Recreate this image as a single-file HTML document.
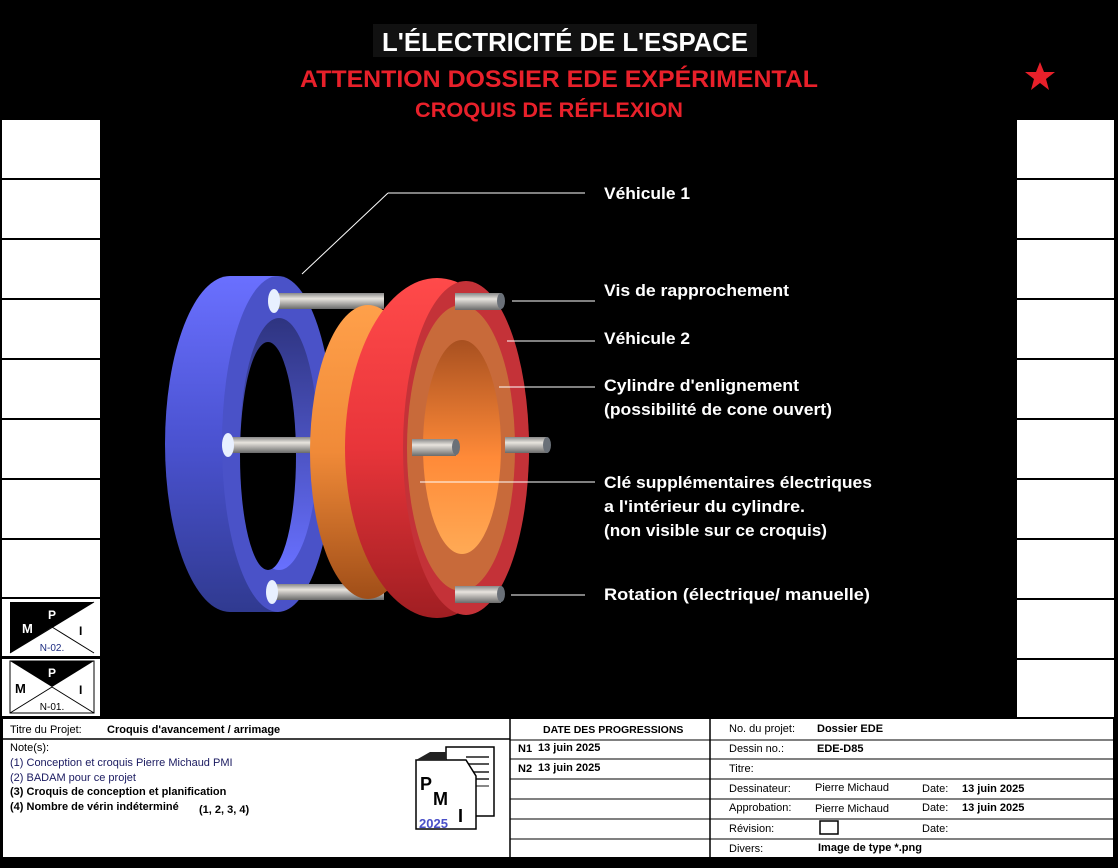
<!DOCTYPE html>
<html><head><meta charset="utf-8"><style>html,body{margin:0;padding:0;background:#000}svg{display:block}text{font-family:"Liberation Sans",sans-serif}</style></head><body>
<svg width="1118" height="868" viewBox="0 0 1118 868" xmlns="http://www.w3.org/2000/svg">
<defs>
<linearGradient id="bl" x1="0" y1="0" x2="0" y2="1"><stop offset="0" stop-color="#6a70ff"/><stop offset="0.5" stop-color="#4a52d0"/><stop offset="1" stop-color="#303a90"/></linearGradient>
<linearGradient id="blin" x1="0" y1="0" x2="0" y2="1"><stop offset="0" stop-color="#2e3480"/><stop offset="1" stop-color="#6870ff"/></linearGradient>
<linearGradient id="rd" x1="0" y1="0" x2="0" y2="1"><stop offset="0" stop-color="#ff4a4a"/><stop offset="0.5" stop-color="#e8353a"/><stop offset="1" stop-color="#a01e22"/></linearGradient>
<linearGradient id="or" x1="0" y1="0" x2="0" y2="1"><stop offset="0" stop-color="#ffa04a"/><stop offset="0.5" stop-color="#f08a38"/><stop offset="1" stop-color="#a04e18"/></linearGradient>
<linearGradient id="orin" x1="0" y1="0" x2="0" y2="1"><stop offset="0" stop-color="#a85020"/><stop offset="0.55" stop-color="#ff8a38"/><stop offset="1" stop-color="#ffaa55"/></linearGradient>
<linearGradient id="rod" x1="0" y1="0" x2="0" y2="1"><stop offset="0" stop-color="#888"/><stop offset="0.35" stop-color="#e8e4de"/><stop offset="1" stop-color="#6a6a6a"/></linearGradient>
</defs>
<rect width="1118" height="868" fill="#000"/>
<rect x="373" y="24" width="384" height="33" fill="#111"/>
<text x="565" y="51" fill="#fff" font-size="26" font-weight="bold" text-anchor="middle" textLength="366" lengthAdjust="spacingAndGlyphs">L'ÉLECTRICITÉ DE L'ESPACE</text>
<text x="559" y="87" fill="#e8202a" font-size="24" font-weight="bold" text-anchor="middle" textLength="518" lengthAdjust="spacingAndGlyphs">ATTENTION DOSSIER EDE EXPÉRIMENTAL</text>
<text x="549" y="117" fill="#e8202a" font-size="21" font-weight="bold" text-anchor="middle" textLength="268" lengthAdjust="spacingAndGlyphs">CROQUIS DE RÉFLEXION</text>
<polygon points="1040,62 1044,72 1055,72 1046,79 1049,90 1040,83 1031,90 1034,79 1025,72 1036,72" fill="#e8202a"/>
<g fill="#fff">
<rect x="2" y="120" width="98" height="58"/><rect x="2" y="180" width="98" height="58"/><rect x="2" y="240" width="98" height="58"/><rect x="2" y="300" width="98" height="58"/><rect x="2" y="360" width="98" height="58"/><rect x="2" y="420" width="98" height="58"/><rect x="2" y="480" width="98" height="58"/><rect x="2" y="540" width="98" height="57"/>
<rect x="1017" y="120" width="97" height="58"/><rect x="1017" y="180" width="97" height="58"/><rect x="1017" y="240" width="97" height="58"/><rect x="1017" y="300" width="97" height="58"/><rect x="1017" y="360" width="97" height="58"/><rect x="1017" y="420" width="97" height="58"/><rect x="1017" y="480" width="97" height="58"/><rect x="1017" y="540" width="97" height="58"/><rect x="1017" y="600" width="97" height="58"/><rect x="1017" y="660" width="97" height="57"/>
<rect x="2" y="599" width="98" height="57"/><rect x="2" y="659" width="98" height="57"/>
</g>
<g>
<rect x="10" y="602" width="84" height="51" fill="#000"/>
<polygon points="10,653 94,602 94,653" fill="#fff"/>
<polygon points="52,627 10,653 94,653" fill="#fff"/>
<line x1="52" y1="627" x2="94" y2="653" stroke="#000"/>
<line x1="10" y1="653" x2="94" y2="602" stroke="#000"/>
<text x="22" y="633" fill="#fff" font-size="13" font-weight="bold">M</text>
<text x="48" y="619" fill="#fff" font-size="12" font-weight="bold">P</text>
<text x="79" y="635" fill="#000" font-size="12" font-weight="bold">I</text>
<text x="52" y="651" fill="#1a2a80" font-size="10" text-anchor="middle">N-02.</text>
<rect x="10" y="661" width="84" height="52" fill="#fff" stroke="#000"/>
<polygon points="10,661 94,661 52,687" fill="#000"/>
<line x1="10" y1="713" x2="52" y2="687" stroke="#000"/><line x1="52" y1="687" x2="94" y2="713" stroke="#000"/>
<text x="15" y="693" fill="#000" font-size="13" font-weight="bold">M</text>
<text x="48" y="677" fill="#fff" font-size="12" font-weight="bold">P</text>
<text x="79" y="694" fill="#000" font-size="12" font-weight="bold">I</text>
<text x="52" y="710" fill="#000" font-size="10" text-anchor="middle">N-01.</text>
</g>
<!-- blue ring -->
<ellipse cx="230" cy="444" rx="65" ry="168" fill="url(#bl)"/>
<rect x="230" y="276" width="48" height="336" fill="url(#bl)"/>
<ellipse cx="278" cy="444" rx="56" ry="168" fill="#4a52c8"/>
<ellipse cx="279" cy="444" rx="39" ry="126" fill="url(#blin)"/>
<ellipse cx="268" cy="456" rx="28" ry="114" fill="#000"/>
<rect x="274" y="293" width="110" height="16" fill="url(#rod)"/>
<rect x="274" y="584" width="110" height="16" fill="url(#rod)"/>
<rect x="228" y="437" width="90" height="16" fill="url(#rod)"/>
<ellipse cx="274" cy="301" rx="6" ry="12" fill="#e8f0ff"/>
<ellipse cx="272" cy="592" rx="6" ry="12" fill="#e8f0ff"/>
<ellipse cx="228" cy="445" rx="6" ry="12" fill="#e8f0ff"/>
<ellipse cx="368" cy="452" rx="58" ry="147" fill="url(#or)"/>
<!-- red ring -->
<ellipse cx="437" cy="448" rx="92" ry="170" fill="url(#rd)"/>
<ellipse cx="466" cy="448" rx="63" ry="167" fill="#c43238"/>
<ellipse cx="461" cy="448" rx="54" ry="143" fill="#c86a3a"/>
<ellipse cx="462" cy="447" rx="39" ry="107" fill="url(#orin)"/>
<rect x="455" y="293" width="46" height="17" fill="url(#rod)"/><ellipse cx="501" cy="301" rx="4" ry="8" fill="#6a7078"/>
<rect x="455" y="586" width="46" height="17" fill="url(#rod)"/><ellipse cx="501" cy="594" rx="4" ry="8" fill="#6a7078"/>
<rect x="412" y="439" width="44" height="17" fill="url(#rod)"/><ellipse cx="456" cy="447" rx="4" ry="8" fill="#6a7078"/>
<rect x="505" y="437" width="42" height="16" fill="url(#rod)"/><ellipse cx="547" cy="445" rx="4" ry="8" fill="#6a7078"/>
<g stroke="#fff" stroke-width="1">
<line x1="302" y1="274" x2="388" y2="193"/><line x1="388" y1="193" x2="585" y2="193"/>
<line x1="512" y1="301" x2="595" y2="301"/>
<line x1="507" y1="341" x2="595" y2="341"/>
<line x1="499" y1="387" x2="595" y2="387"/>
<line x1="420" y1="482" x2="595" y2="482"/>
<line x1="511" y1="595" x2="585" y2="595"/>
</g>
<g fill="#fff" font-size="17" font-weight="bold">
<text x="604" y="199" textLength="86" lengthAdjust="spacingAndGlyphs">Véhicule 1</text>
<text x="604" y="296" textLength="185" lengthAdjust="spacingAndGlyphs">Vis de rapprochement</text>
<text x="604" y="344" textLength="86" lengthAdjust="spacingAndGlyphs">Véhicule 2</text>
<text x="604" y="391" textLength="195" lengthAdjust="spacingAndGlyphs">Cylindre d'enlignement</text>
<text x="604" y="415" textLength="228" lengthAdjust="spacingAndGlyphs">(possibilité de cone ouvert)</text>
<text x="604" y="488" textLength="268" lengthAdjust="spacingAndGlyphs">Clé supplémentaires électriques</text>
<text x="604" y="512" textLength="201" lengthAdjust="spacingAndGlyphs">a l'intérieur du cylindre.</text>
<text x="604" y="536" textLength="223" lengthAdjust="spacingAndGlyphs">(non visible sur ce croquis)</text>
<text x="604" y="600" textLength="266" lengthAdjust="spacingAndGlyphs">Rotation (électrique/ manuelle)</text>
</g>
<rect x="2" y="718" width="1112" height="140" fill="#fff" stroke="#000" stroke-width="2"/>
<g stroke="#000" stroke-width="1.5">
<line x1="510" y1="718" x2="510" y2="858"/><line x1="710" y1="718" x2="710" y2="858"/>
<line x1="2" y1="739" x2="510" y2="739"/>
</g>
<g stroke="#000" stroke-width="1">
<line x1="510" y1="740" x2="1114" y2="740"/><line x1="510" y1="759" x2="1114" y2="759"/><line x1="510" y1="779" x2="1114" y2="779"/><line x1="510" y1="799" x2="1114" y2="799"/><line x1="510" y1="819" x2="1114" y2="819"/><line x1="510" y1="839" x2="1114" y2="839"/>
</g>
<g font-size="11" fill="#000">
<text x="10" y="733">Titre du Projet:</text>
<text x="107" y="733" font-weight="bold">Croquis d'avancement / arrimage</text>
<text x="10" y="751">Note(s):</text>
<text x="10" y="766" fill="#1a1a60">(1) Conception et croquis Pierre Michaud PMI</text>
<text x="10" y="781" fill="#1a1a60">(2) BADAM pour ce projet</text>
<text x="10" y="795" font-weight="bold">(3) Croquis de conception et planification</text>
<text x="10" y="810" font-weight="bold">(4) Nombre de vérin indéterminé</text>
<text x="199" y="813" font-weight="bold">(1, 2, 3, 4)</text>
<text x="543" y="733" font-weight="bold" font-size="10.5">DATE DES PROGRESSIONS</text>
<text x="518" y="752" font-weight="bold">N1</text><text x="538" y="751" font-weight="bold">13 juin 2025</text>
<text x="518" y="772" font-weight="bold">N2</text><text x="538" y="771" font-weight="bold">13 juin 2025</text>
<text x="729" y="732">No. du projet:</text><text x="817" y="732" font-weight="bold">Dossier EDE</text>
<text x="729" y="752">Dessin no.:</text><text x="817" y="752" font-weight="bold">EDE-D85</text>
<text x="729" y="772">Titre:</text>
<text x="729" y="792">Dessinateur:</text><text x="815" y="791">Pierre Michaud</text><text x="922" y="792">Date:</text><text x="962" y="792" font-weight="bold">13 juin 2025</text>
<text x="729" y="811">Approbation:</text><text x="815" y="812">Pierre Michaud</text><text x="922" y="811">Date:</text><text x="962" y="811" font-weight="bold">13 juin 2025</text>
<text x="729" y="832">Révision:</text><text x="922" y="832">Date:</text>
<text x="729" y="852">Divers:</text><text x="818" y="851" font-weight="bold">Image de type *.png</text>
</g>
<rect x="820" y="821" width="18" height="13" fill="none" stroke="#000" stroke-width="1.5"/>
<g>
<polygon points="446,747 494,747 494,816 446,816" fill="#fff" stroke="#000" stroke-width="1.5"/>
<line x1="466" y1="757" x2="489" y2="757" stroke="#555" stroke-width="2"/><line x1="466" y1="764" x2="489" y2="764" stroke="#555" stroke-width="2"/><line x1="472" y1="772" x2="489" y2="772" stroke="#555" stroke-width="2"/><line x1="472" y1="779" x2="489" y2="779" stroke="#555" stroke-width="2"/><line x1="472" y1="786" x2="489" y2="786" stroke="#888" stroke-width="2"/>
<polygon points="416,760 466,760 476,776 476,829 416,829" fill="#fff" stroke="#000" stroke-width="1.5"/>
<polygon points="416,760 430,752 446,752 446,760" fill="#222"/>
<text x="420" y="790" font-size="18" font-weight="bold" fill="#000">P</text>
<text x="433" y="805" font-size="18" font-weight="bold" fill="#000">M</text>
<text x="458" y="822" font-size="18" font-weight="bold" fill="#000">I</text>
<text x="419" y="828" font-size="13" font-weight="bold" fill="#4a50c8">2025</text>
</g>
</svg>
</body></html>
